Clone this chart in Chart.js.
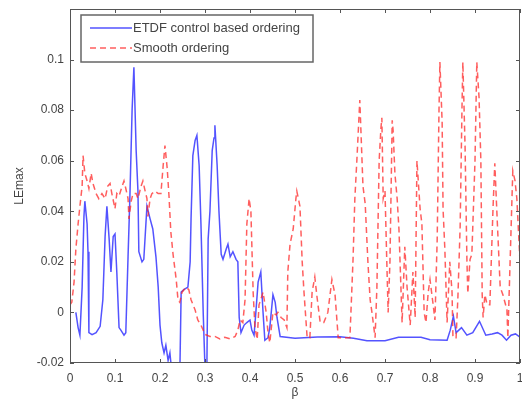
<!DOCTYPE html>
<html>
<head>
<meta charset="utf-8">
<script src="https://cdn.jsdelivr.net/npm/chart.js@4.4.0/dist/chart.umd.min.js"></script>
<style>
  html, body { margin: 0; padding: 0; background: #fff; }
  #wrap { width: 522px; height: 402px; }
</style>
</head>
<body>
<div id="wrap"><canvas id="grafico" width="522" height="402"></canvas></div>
<script>
// ================= DADOS =================
const betaEtdf = [0.013, 0.018, 0.022, 0.027, 0.031, 0.033, 0.038, 0.040, 0.042, 0.049, 0.058, 0.067, 0.073, 0.078, 0.082, 0.087, 0.091, 0.096, 0.100, 0.104,
  0.109, 0.113, 0.120, 0.124, 0.129, 0.133, 0.138, 0.142, 0.147, 0.151, 0.153, 0.160, 0.164, 0.171, 0.178, 0.184, 0.191, 0.196, 0.200, 0.204,
  0.209, 0.213, 0.218, 0.222, 0.227, 0.244, 0.247, 0.253, 0.262, 0.267, 0.269, 0.273, 0.278, 0.282, 0.287, 0.291, 0.296, 0.300, 0.304, 0.307,
  0.311, 0.316, 0.320, 0.322, 0.327, 0.331, 0.336, 0.340, 0.347, 0.351, 0.356, 0.362, 0.369, 0.373, 0.376, 0.380, 0.387, 0.393, 0.400, 0.404,
  0.409, 0.413, 0.418, 0.424, 0.429, 0.433, 0.440, 0.444, 0.451, 0.456, 0.460, 0.467, 0.500, 0.550, 0.600, 0.630, 0.660, 0.700, 0.730, 0.780,
  0.800, 0.838, 0.845, 0.852, 0.858, 0.870, 0.882, 0.895, 0.910, 0.924, 0.938, 0.950, 0.960, 0.970, 0.980, 0.990, 1.000];
const lossEtdf = [0.000, -0.006, -0.009, 0.010, 0.038, 0.044, 0.035, 0.024, -0.008, -0.0088, -0.008, -0.0055, 0.005, 0.030, 0.042, 0.029, 0.016, 0.030, 0.031, 0.016,
  -0.006, -0.007, -0.009, -0.008, 0.022, 0.045, 0.080, 0.097, 0.064, 0.048, 0.024, 0.020, 0.021, 0.042, 0.037, 0.033, 0.022, 0.010, -0.005, -0.012,
  -0.016, -0.013, -0.019, -0.016, -0.025, -0.025, 0.008, 0.009, 0.010, 0.020, 0.037, 0.062, 0.068, 0.070, 0.058, 0.035, 0.000, -0.022, -0.025, 0.029,
  0.040, 0.064, 0.069, 0.074, 0.058, 0.040, 0.023, 0.021, 0.025, 0.027, 0.022, 0.024, 0.021, 0.020, -0.002, -0.008, -0.005, -0.004, -0.003, -0.007,
  -0.009, 0.000, 0.012, 0.016, 0.000, -0.011, -0.010, -0.006, 0.007, 0.004, -0.002, -0.0095, -0.0102, -0.0097, -0.0096, -0.0102, -0.0112, -0.0112, -0.0098, -0.0098,
  -0.0108, -0.011, -0.007, -0.0015, -0.008, -0.006, -0.009, -0.008, -0.0035, -0.009, -0.0085, -0.008, -0.009, -0.011, -0.009, -0.0085, -0.0098];

const betaSmooth = [0.000, 0.004, 0.009, 0.013, 0.018, 0.022, 0.027, 0.029, 0.033, 0.038, 0.042, 0.047, 0.051, 0.058, 0.064, 0.071, 0.078, 0.084, 0.089, 0.093,
  0.100, 0.104, 0.109, 0.116, 0.120, 0.124, 0.129, 0.131, 0.136, 0.140, 0.147, 0.151, 0.158, 0.162, 0.167, 0.171, 0.173, 0.178, 0.182, 0.189,
  0.196, 0.202, 0.207, 0.211, 0.216, 0.220, 0.224, 0.229, 0.236, 0.240, 0.244, 0.249, 0.258, 0.264, 0.269, 0.278, 0.284, 0.291, 0.300, 0.311,
  0.322, 0.333, 0.344, 0.356, 0.367, 0.373, 0.378, 0.384, 0.389, 0.393, 0.398, 0.402, 0.407, 0.411, 0.416, 0.420, 0.424, 0.429, 0.436, 0.440,
  0.444, 0.451, 0.458, 0.462, 0.469, 0.476, 0.482, 0.484, 0.489, 0.496, 0.502, 0.504, 0.511, 0.516, 0.520, 0.527, 0.533, 0.538, 0.544, 0.549,
  0.556, 0.564, 0.573, 0.582, 0.589, 0.596, 0.611, 0.622, 0.629, 0.633, 0.638, 0.644, 0.651, 0.656, 0.662, 0.667, 0.671, 0.678, 0.682, 0.687,
  0.691, 0.693, 0.696, 0.700, 0.704, 0.707, 0.711, 0.716, 0.718, 0.722, 0.727, 0.731, 0.738, 0.744, 0.749, 0.756, 0.762, 0.767, 0.771, 0.778,
  0.782, 0.787, 0.791, 0.796, 0.800, 0.807, 0.811, 0.816, 0.820, 0.822, 0.827, 0.829, 0.833, 0.838, 0.844, 0.849, 0.851, 0.858, 0.862, 0.867,
  0.871, 0.873, 0.878, 0.882, 0.884, 0.889, 0.893, 0.900, 0.904, 0.909, 0.913, 0.916, 0.918, 0.922, 0.927, 0.933, 0.940, 0.944, 0.949, 0.956,
  0.962, 0.971, 0.973, 0.978, 0.984, 0.989, 0.993, 1.000];
const lossSmooth = [0.003, 0.004, 0.012, 0.025, 0.035, 0.042, 0.050, 0.062, 0.055, 0.052, 0.049, 0.055, 0.051, 0.047, 0.045, 0.047, 0.045, 0.050, 0.051, 0.047,
  0.041, 0.047, 0.046, 0.050, 0.052, 0.049, 0.045, 0.037, 0.044, 0.047, 0.047, 0.045, 0.050, 0.052, 0.048, 0.045, 0.038, 0.045, 0.047, 0.048,
  0.047, 0.047, 0.058, 0.066, 0.057, 0.046, 0.032, 0.023, 0.013, 0.005, 0.004, 0.008, 0.010, 0.009, 0.005, 0.001, -0.003, -0.005, -0.0087, -0.0095,
  -0.0095, -0.0105, -0.0098, -0.0105, -0.0095, -0.007, -0.003, -0.004, 0.005, 0.035, 0.045, 0.040, 0.008, -0.006, -0.0107, 0.003, 0.005, 0.008, 0.000, -0.008,
  -0.012, 0.000, -0.001, 0.000, -0.002, -0.003, -0.006, 0.016, 0.027, 0.033, 0.045, 0.048, 0.042, 0.020, 0.008, -0.010, -0.010, 0.008, 0.014, 0.006,
  -0.004, -0.004, 0.000, 0.013, 0.007, -0.010, -0.010, -0.010, 0.021, 0.045, 0.062, 0.084, 0.050, 0.043, 0.020, 0.005, 0.000, -0.010, 0.010, 0.060,
  0.073, 0.077, 0.045, 0.048, 0.020, 0.000, 0.020, 0.076, 0.072, 0.055, 0.045, 0.033, -0.004, 0.026, 0.010, -0.005, 0.016, -0.002, 0.060, 0.041,
  0.035, 0.000, -0.004, 0.008, 0.013, 0.003, -0.003, 0.029, 0.080, 0.099, 0.075, 0.041, 0.025, -0.004, 0.020, 0.008, -0.010, -0.010, 0.006, 0.034,
  0.080, 0.099, 0.065, 0.021, 0.0075, 0.021, 0.023, 0.060, 0.099, 0.085, 0.060, 0.007, -0.002, 0.007, 0.003, 0.003, 0.041, 0.059, 0.038, 0.010,
  0.007, 0.001, -0.010, 0.020, 0.056, 0.052, 0.045, 0.020];

const xTicks = [0, 0.1, 0.2, 0.3, 0.4, 0.5, 0.6, 0.7, 0.8, 0.9, 1];
const yTicks = [-0.02, 0, 0.02, 0.04, 0.06, 0.08, 0.1];
const seriesLabels = ["ETDF control based ordering", "Smooth ordering"];

// ================= CORES =================
const CORES = {
  azul: "rgba(40, 40, 255, 0.8)",
  vermelho: "rgba(255, 40, 40, 0.75)",
  texto: "#444",
  eixo: "#555",
};
const FONTE = "Liberation Sans, Arial, sans-serif";

function juntar(xs, ys) {
  return xs.map((v, i) => ({ x: v, y: ys[i] }));
}

function formatar(v) {
  return String(+v.toFixed(2));
}

// ================= PLUGIN: MOLDURA E TICKS =================
const moldura = {
  id: "moldura",
  afterDatasetsDraw(chart) {
    const { ctx, chartArea: a, scales } = chart;
    ctx.save();
    ctx.strokeStyle = CORES.eixo;
    ctx.lineWidth = 1;
    ctx.strokeRect(Math.round(a.left) + 0.5, Math.round(a.top) + 0.5, Math.round(a.width) - 1, Math.round(a.height) - 1);
    ctx.beginPath();
    xTicks.forEach((v) => {
      const px = Math.round(scales.x.getPixelForValue(v)) + 0.5;
      ctx.moveTo(px, a.bottom);
      ctx.lineTo(px, a.bottom - 4);
      ctx.moveTo(px, a.top);
      ctx.lineTo(px, a.top + 4);
    });
    yTicks.forEach((v) => {
      const py = Math.round(scales.y.getPixelForValue(v)) + 0.5;
      ctx.moveTo(a.left, py);
      ctx.lineTo(a.left + 4, py);
      ctx.moveTo(a.right, py);
      ctx.lineTo(a.right - 4, py);
    });
    ctx.stroke();
    ctx.restore();
  },
};

// ================= PLUGIN: LEGENDA =================
const legenda = {
  id: "legenda",
  afterDraw(chart) {
    const { ctx, chartArea: a } = chart;
    const x0 = a.left + 11, y0 = a.top + 6, w = 232, h = 47;
    ctx.save();
    ctx.fillStyle = "#fff";
    ctx.fillRect(x0, y0, w, h);
    ctx.strokeStyle = "#666";
    ctx.lineWidth = 1.5;
    ctx.strokeRect(x0, y0, w, h);
    chart.data.datasets.forEach((ds, i) => {
      const ly = y0 + 13 + i * 20;
      ctx.strokeStyle = ds.borderColor;
      ctx.lineWidth = ds.borderWidth;
      ctx.setLineDash(ds.borderDash || []);
      ctx.beginPath();
      ctx.moveTo(x0 + 9, ly);
      ctx.lineTo(x0 + 51, ly);
      ctx.stroke();
      ctx.setLineDash([]);
      ctx.fillStyle = CORES.texto;
      ctx.font = "13px " + FONTE;
      ctx.textBaseline = "middle";
      ctx.fillText(ds.label, x0 + 52, ly);
    });
    ctx.restore();
  },
};

// ================= GRÁFICO =================
const ctx = document.getElementById("grafico").getContext("2d");
new Chart(ctx, {
  type: "line",
  data: {
    datasets: [
      {
        label: seriesLabels[0],
        data: juntar(betaEtdf, lossEtdf),
        borderColor: CORES.azul,
        borderWidth: 1.5,
        pointRadius: 0,
        tension: 0,
        order: 1,
      },
      {
        label: seriesLabels[1],
        data: juntar(betaSmooth, lossSmooth),
        borderColor: CORES.vermelho,
        borderWidth: 1.5,
        borderDash: [6, 4],
        pointRadius: 0,
        tension: 0,
        order: 0,
      },
    ],
  },
  options: {
    responsive: false,
    animation: false,
    layout: { padding: { left: 12, right: 2, top: 9, bottom: 0 } },
    plugins: { legend: { display: false }, tooltip: { enabled: false } },
    scales: {
      x: {
        type: "linear",
        min: 0,
        max: 1,
        afterBuildTicks: (s) => { s.ticks = xTicks.map((v) => ({ value: v })); },
        afterFit: (s) => { s.height = 39; s.paddingLeft = 0; s.paddingRight = 0; },
        grid: { display: false, drawTicks: false },
        border: { display: false },
        ticks: { padding: 8, color: CORES.texto, font: { family: FONTE, size: 12 }, callback: formatar, maxRotation: 0 },
        title: { display: true, text: "β", color: CORES.texto, font: { family: FONTE, size: 12 }, padding: { top: 0, bottom: 2 } },
      },
      y: {
        min: -0.02,
        max: 0.12,
        afterBuildTicks: (s) => { s.ticks = yTicks.map((v) => ({ value: v })); },
        afterFit: (s) => { s.width = 58; s.paddingTop = 0; s.paddingBottom = 0; },
        grid: { display: false, drawTicks: false },
        border: { display: false },
        ticks: { padding: 6, color: CORES.texto, font: { family: FONTE, size: 12 }, callback: formatar },
        title: { display: true, text: "LEmax", color: CORES.texto, font: { family: FONTE, size: 12 }, padding: { top: 0, bottom: 0 } },
      },
    },
  },
  plugins: [moldura, legenda],
});
</script>
</body>
</html>
